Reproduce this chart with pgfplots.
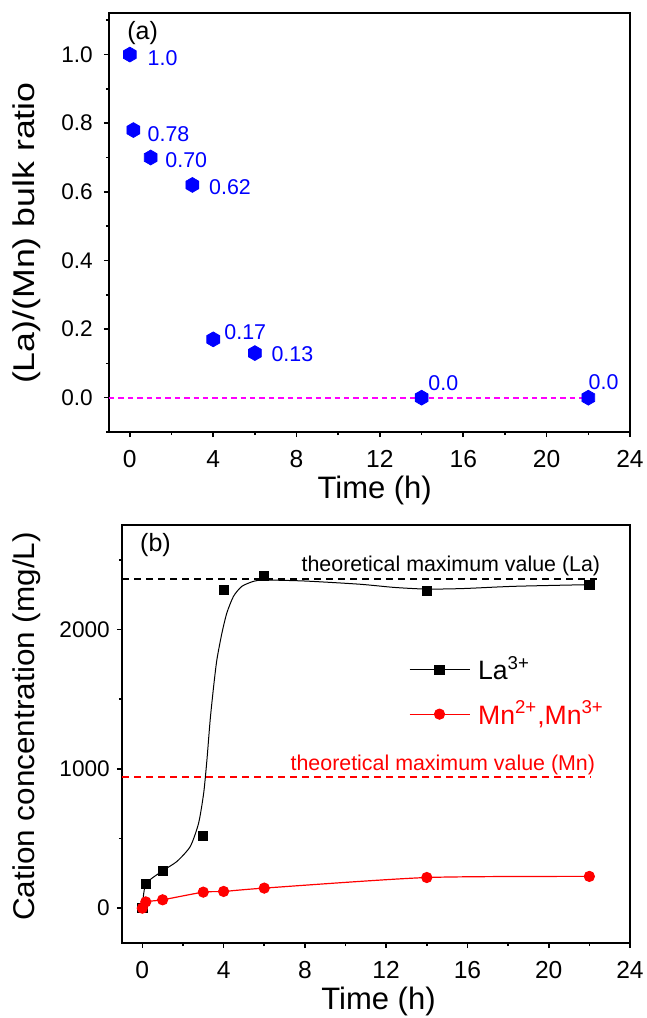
\documentclass[border=0pt]{standalone}
\usepackage{fontspec}
\setmainfont{Liberation Sans}
\usepackage{pgfplots}
\pgfplotsset{compat=1.18}

\definecolor{mag}{RGB}{255,0,255}

% hexagon mark, pointy top
\pgfdeclareplotmark{hexagon*}{%
  \pgfpathmoveto{\pgfpointpolar{90}{\pgfplotmarksize}}%
  \pgfpathlineto{\pgfpointpolar{150}{\pgfplotmarksize}}%
  \pgfpathlineto{\pgfpointpolar{210}{\pgfplotmarksize}}%
  \pgfpathlineto{\pgfpointpolar{270}{\pgfplotmarksize}}%
  \pgfpathlineto{\pgfpointpolar{330}{\pgfplotmarksize}}%
  \pgfpathlineto{\pgfpointpolar{30}{\pgfplotmarksize}}%
  \pgfpathclose
  \pgfusepathqfillstroke}

\tikzset{
  lbl/.style={font=\fontsize{10.7}{12}\selectfont, inner sep=0pt},
  panlbl/.style={font=\fontsize{12.5}{14}\selectfont, inner sep=0pt},
}

\pgfplotsset{
  panel/.style={
    scale only axis,
    anchor=south west,
    axis line style={line width=0.9pt},
    tick style={line width=0.8pt,black},
    major tick length=2.6pt, minor tick length=1.6pt,
    tick align=outside,
    xtick pos=bottom, ytick pos=left,
    /pgf/number format/assume math mode=true,
    xticklabel style={font=\fontsize{12.3}{14}\selectfont, yshift=-3pt},
    yticklabel style={font=\fontsize{11.3}{13}\selectfont},
    xlabel style={font=\fontsize{15.5}{18}\selectfont},
    ylabel style={font=\fontsize{15}{18}\selectfont},
    xmin=-1, xmax=24,
    xtick={0,4,8,12,16,20,24},
    minor xtick={2,6,10,14,18,22},
    xlabel={Time (h)},
  },
}

\begin{document}
\begin{tikzpicture}
\path[use as bounding box] (0,0) rectangle (323.5pt,509pt);

% (a) La/Mn ratio
\begin{axis}[panel,
  at={(54.5pt,293pt)}, width=260.5pt, height=209.3pt,
  ymin=-0.1, ymax=1.12,
  ytick={0,0.2,0.4,0.6,0.8,1.0},
  minor ytick={-0.1,0.1,0.3,0.5,0.7,0.9,1.1},
  yticklabel style={xshift=-2pt,/pgf/number format/.cd,fixed,fixed zerofill,precision=1},
  xlabel style={at={(axis description cs:0.51,-0.139)},anchor=center},
  ylabel={(La)/(Mn) bulk ratio},
  ylabel style={at={(axis description cs:-0.157,0.475)},anchor=center,xscale=1.19},
]
\addplot[draw=mag, line width=0.9pt, dash pattern=on 2.7pt off 2pt] coordinates {(-1,0) (22,0)};
\addplot[only marks, blue, mark=hexagon*, mark size=3.7pt] coordinates {
  (0,1.0) (0.17,0.78) (1,0.70) (3,0.62) (4,0.17) (6,0.13) (14,0) (22,0)
};
\node[lbl, blue, anchor=west] at (axis cs:0.84,0.99) {1.0};
\node[lbl, blue, anchor=west] at (axis cs:0.84,0.767) {0.78};
\node[lbl, blue, anchor=west] at (axis cs:1.69,0.691) {0.70};
\node[lbl, blue, anchor=west] at (axis cs:3.79,0.614) {0.62};
\node[lbl, blue, anchor=west] at (axis cs:4.52,0.19) {0.17};
\node[lbl, blue, anchor=west] at (axis cs:6.78,0.127) {0.13};
\node[lbl, blue, anchor=west] at (axis cs:14.31,0.043) {0.0};
\node[lbl, blue, anchor=west] at (axis cs:22.0,0.045) {0.0};
\node[panlbl, anchor=west] at (axis description cs:0.0345,0.953) {(a)};
\end{axis}

% (b) cation concentration
\begin{axis}[panel,
  at={(61pt,37.5pt)}, width=254pt, height=209pt,
  ymin=-250, ymax=2750,
  ytick={0,1000,2000},
  minor ytick={500,1500,2500},
  scaled y ticks=false,
  yticklabel style={/pgf/number format/1000 sep={}},
  xlabel style={at={(axis description cs:0.505,-0.141)},anchor=center},
  ylabel={Cation concentration (mg/L)},
  ylabel style={at={(axis description cs:-0.187,0.518)},anchor=center,xscale=1.05},
  legend style={draw=none, fill=none, at={(axis description cs:0.564,0.696)}, anchor=north west,
    font=\fontsize{13.3}{15}\selectfont, row sep=5pt, inner sep=0pt,
    nodes={inner xsep=4pt}},
  legend cell align=left,
  legend image code/.code={%
    \draw[mark repeat=2,mark phase=2,#1] plot coordinates {(0pt,0pt) (15pt,0pt) (30pt,0pt)};},
]
\addplot[black, line width=0.8pt, dash pattern=on 3.5pt off 2.5pt, forget plot] coordinates {(-1,2364) (22.4,2364)};
\addplot[red, line width=0.8pt, dash pattern=on 3.5pt off 2.5pt, forget plot] coordinates {(-1,943) (22.1,943)};
% La fitted curve
\addplot[black, line width=0.5pt, smooth, tension=0.4, forget plot] coordinates {
  (0,0) (0.17,172) (1,268) (1.7,335) (2.36,443) (2.77,610) (3.02,826) (3.18,1065)
  (3.34,1353) (3.51,1592) (3.67,1784) (3.92,1976) (4.16,2119) (4.49,2239) (4.9,2310)
  (5.48,2346) (6,2355) (8,2348) (10.7,2325) (12.4,2302) (14,2290) (15.8,2294)
  (18.3,2310) (22,2322)
};
\addplot[only marks, black, mark=square*, mark size=2.3pt, forget plot] coordinates {
  (0,0) (0.17,172) (1,268) (3,520) (4,2285) (6,2382) (14,2278) (22,2318)
};
% Mn
\addplot[red, line width=0.6pt, smooth, tension=0.4, mark=*, mark size=2.5pt, forget plot] coordinates {
  (0,0) (0.17,45) (1,60) (3,115) (4,120) (6,144) (14,220) (22,228)
};
\addlegendimage{black, line width=0.5pt, mark=square*, mark size=2.3pt}
\addlegendentry{La\textsuperscript{3+}}
\addlegendimage{red, line width=0.6pt, mark=*, mark size=2.5pt}
\addlegendentry{\textcolor{red}{Mn\textsuperscript{2+},Mn\textsuperscript{3+}}}
\node[lbl, anchor=east] at (axis cs:22.55,2454) {theoretical maximum value (La)};
\node[lbl, anchor=east, red] at (axis cs:22.3,1029) {theoretical maximum value (Mn)};
\node[panlbl, anchor=west] at (axis description cs:0.035,0.952) {(b)};
\end{axis}
\end{tikzpicture}
\end{document}
